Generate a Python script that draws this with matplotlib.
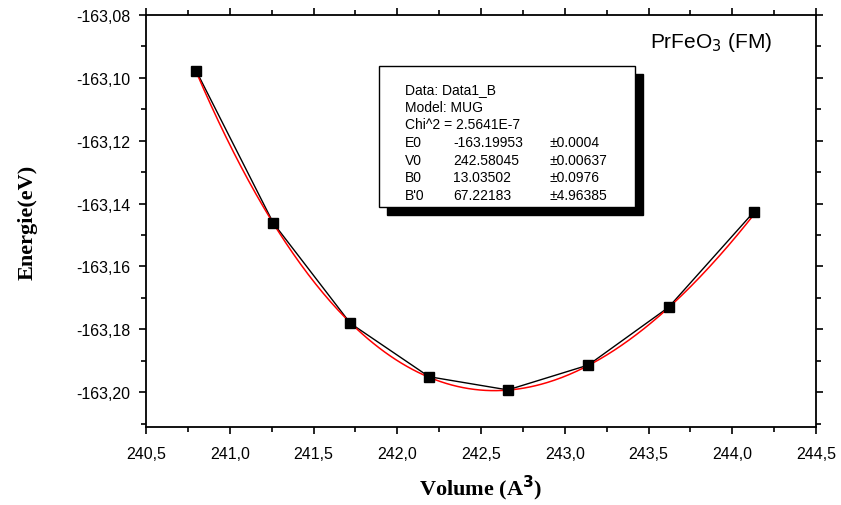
import numpy as np
import matplotlib
matplotlib.use('Agg')
import matplotlib.pyplot as plt
from matplotlib.patches import Rectangle

# computed points (volume in A^3, energy in eV)
volume = [240.80, 241.26, 241.72, 242.19, 242.66, 243.14, 243.62, 244.13]
energy = [-163.0978, -163.1462, -163.1781, -163.1951, -163.1993, -163.1914, -163.1730, -163.1426]

# Murnaghan fit results
E0, V0, B0, Bp = -163.19953, 242.58045, 13.03502, 67.22183
fit_rows = [("E0", "-163.19953", "\u00b10.0004"),
            ("V0", "242.58045", "\u00b10.00637"),
            ("B0", "13.03502", "\u00b10.0976"),
            ("B'0", "67.22183", "\u00b14.96385")]

def murnaghan(v):
    return E0 + B0 * v / Bp * ((V0 / v) ** Bp / (Bp - 1) + 1) - B0 * V0 / (Bp - 1)

plt.rcParams['font.family'] = ['Liberation Sans', 'DejaVu Sans']

fig = plt.figure(figsize=(8.41, 5.06), dpi=100)
ax = fig.add_axes([146 / 841, 1 - 428 / 506, 670 / 841, 412 / 506])

ax.plot(volume, energy, color='black', lw=1.0, zorder=2)
vv = np.linspace(volume[0], volume[-1], 300)
ax.plot(vv, murnaghan(vv), color='red', lw=1.1, zorder=3)
ax.plot(volume, energy, ls='none', marker='s', ms=6.5, color='black', zorder=4)

ax.set_xlim(240.5, 244.5)
ax.set_ylim(-163.2111, -163.08)
ax.set_xticks(np.arange(240.5, 244.51, 0.5))
ax.set_xticks(np.arange(240.75, 244.5, 0.5), minor=True)
ax.set_yticks(np.arange(-163.20, -163.079, 0.02))
ax.set_yticks(np.arange(-163.21, -163.08, 0.02), minor=True)
ax.set_xticklabels([f"{t:.1f}".replace('.', ',') for t in np.arange(240.5, 244.51, 0.5)])
ax.set_yticklabels([f"{t:.2f}".replace('.', ',') for t in np.arange(-163.20, -163.079, 0.02)])

for s in ax.spines.values():
    s.set_linewidth(1.3)
ax.tick_params(which='major', direction='out', length=5, width=1.2, labelsize=11.5, pad=6)
ax.tick_params(which='minor', direction='out', length=3.5, width=1.2)
ax.tick_params(which='both', top=True, right=True)
ax.tick_params(axis='x', which='major', pad=9)

ax.set_xlabel('Volume (A$^{\\mathbf{3}}$)', family='Liberation Serif', weight='bold',
              fontsize=16, labelpad=8)
ax.set_ylabel('Energie(eV)', family='Liberation Serif', weight='bold',
              fontsize=16)
ax.yaxis.set_label_coords(-108 / 670, 0.5)

ax.text(0.843, 0.936, 'PrFeO$_3$ (FM)', transform=ax.transAxes, fontsize=15,
        ha='center', va='center')

# parameter box with drop shadow, positioned in pixels
def px(x, y):
    return (x / 841, 1 - y / 506)

bx0, by0, bx1, by1 = 379, 67, 635, 208
fig.patches.append(Rectangle(px(bx0 + 8, by1 + 8), (bx1 - bx0) / 841, (by1 - by0) / 506,
                             transform=fig.transFigure, facecolor='black', edgecolor='black',
                             zorder=5))
fig.patches.append(Rectangle(px(bx0, by1), (bx1 - bx0) / 841, (by1 - by0) / 506,
                             transform=fig.transFigure, facecolor='white', edgecolor='black',
                             lw=1.0, zorder=6))

lines = ["Data: Data1_B", "Model: MUG", "Chi^2 = 2.5641E-7"]
y = 90
for t in lines:
    fig.text(*px(405, y), t, fontsize=10, va='center', zorder=7)
    y += 17.7
for name, val, err in fit_rows:
    fig.text(*px(405, y), name, fontsize=10, va='center', zorder=7)
    fig.text(*px(453, y), val, fontsize=10, va='center', zorder=7)
    fig.text(*px(550, y), err, fontsize=10, va='center', zorder=7)
    y += 17.7

fig.savefig('out.png', dpi=100)
